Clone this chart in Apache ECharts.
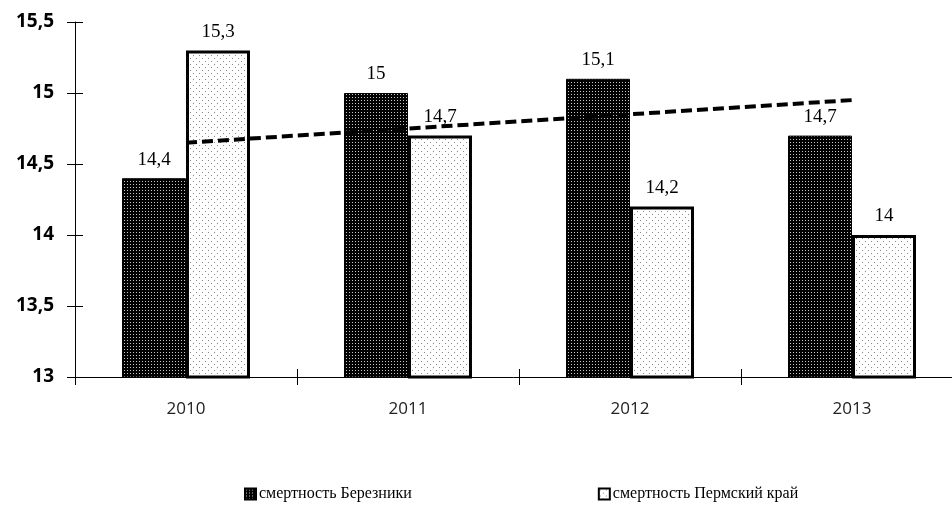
<!DOCTYPE html>
<html><head><meta charset="utf-8">
<script src="https://cdn.jsdelivr.net/npm/echarts@6/dist/echarts.min.js"></script>
<style>html,body{margin:0;padding:0;background:#fff;overflow:hidden}#c{width:952px;height:513px}</style>
</head><body><div id="c"></div>
<script>
const categories = ['2010', '2011', '2012', '2013'];
const berezniki = [14.4, 15, 15.1, 14.7];
const perm = [15.3, 14.7, 14.2, 14];
const trend = [14.65, 14.75, 14.85, 14.95];
const seriesNames = ['смертность Березники', 'смертность Пермский край'];

function makePattern(size, bg, fg, dots) {
  const c = document.createElement('canvas');
  c.width = size; c.height = size;
  const g = c.getContext('2d');
  g.fillStyle = bg; g.fillRect(0, 0, size, size);
  g.fillStyle = fg;
  dots.forEach(d => g.fillRect(d[0], d[1], 1, 1));
  return c;
}
const darkPat = makePattern(3, '#000', '#c8c8c8', [[1, 1]]);
const lightPat = makePattern(6, '#fff', '#888', [[1, 1], [4, 4]]);

const fmt = v => String(v).replace('.', ',');
const chart = echarts.init(document.getElementById('c'));
const labelStyle = {show: true, position: 'top', distance: 9, color: '#000',
  fontFamily: 'Liberation Serif', fontSize: 19, formatter: p => fmt(p.value)};
chart.setOption({
  animation: false,
  backgroundColor: '#fff',
  grid: {left: 75, top: 22, width: 888, bottom: 136, outerBoundsMode: 'none', containLabel: false},
  legend: {
    data: seriesNames, bottom: 6, left: 239, itemGap: 186, icon: 'rect',
    itemWidth: 11, itemHeight: 11,
    textStyle: {fontFamily: 'Liberation Serif', fontSize: 16, color: '#000', padding: [0, 0, 0, -2]}
  },
  xAxis: [{
    type: 'category', data: categories,
    axisLine: {lineStyle: {color: '#000', width: 1}},
    axisTick: {show: true, length: 8, lineStyle: {color: '#000'}},
    axisLabel: {margin: 24, fontFamily: 'Open Sans', fontSize: 17, color: '#222'}
  }, {
    type: 'category', data: categories, position: 'bottom',
    axisLine: {show: false},
    axisTick: {show: true, inside: true, length: 8, lineStyle: {color: '#000'}},
    axisLabel: {show: false}
  }],
  yAxis: [{
    type: 'value', min: 13, max: 15.5, interval: 0.5,
    splitLine: {show: false},
    axisLine: {show: true, lineStyle: {color: '#000'}},
    axisTick: {show: true, length: 8, lineStyle: {color: '#000'}},
    axisLabel: {margin: 21, fontFamily: 'Noto Sans', fontWeight: 'bold', fontSize: 19, color: '#000',
      formatter: v => fmt(v)}
  }, {
    type: 'value', min: 13, max: 15.5, interval: 0.5, position: 'left',
    splitLine: {show: false},
    axisLine: {show: false},
    axisTick: {show: true, inside: true, length: 8, lineStyle: {color: '#000'}},
    axisLabel: {show: false}
  }],
  series: [{
    name: seriesNames[0], type: 'bar', data: berezniki, barWidth: 64, barGap: '0%',
    itemStyle: {color: {image: darkPat, repeat: 'repeat'}, borderColor: '#000', borderWidth: 1},
    label: labelStyle
  }, {
    name: seriesNames[1], type: 'bar', data: perm, barWidth: 64, barGap: '0%',
    itemStyle: {color: {image: lightPat, repeat: 'repeat'}, borderColor: '#000', borderWidth: 3},
    label: labelStyle
  }, {
    name: 'trend', type: 'line', data: trend, symbol: 'none', z: 5,
    lineStyle: {color: '#000', width: 4, type: [11, 5]}
  }]
});
</script></body></html>
